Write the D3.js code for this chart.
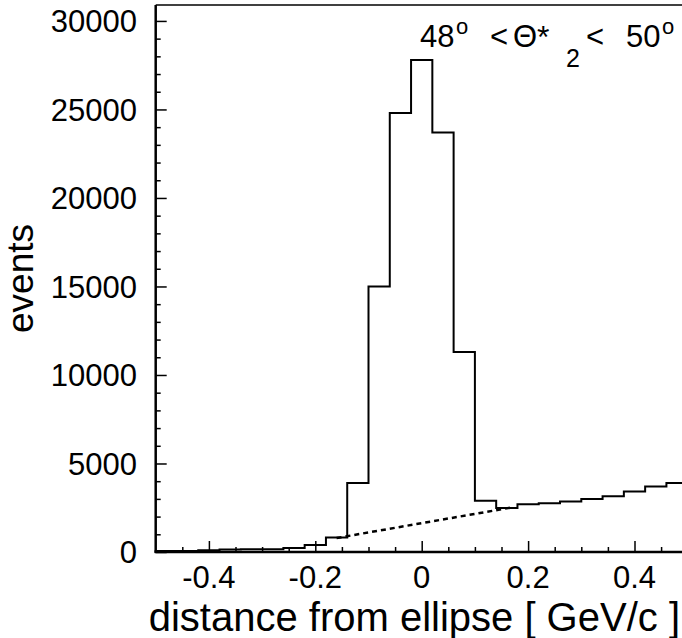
<!DOCTYPE html>
<html>
<head>
<meta charset="utf-8">
<script src="https://cdn.jsdelivr.net/npm/d3@7"></script>
<style>
  html, body { margin: 0; padding: 0; background: #fff; }
  svg { display: block; }
  text { font-family: "Liberation Sans", Arial, Helvetica, sans-serif; fill: #000; }
</style>
</head>
<body>
<svg id="chart" width="682" height="638"></svg>
<script>
// Histogram of distance from the ellipse, 25 bins of width 0.04 from -0.5 to 0.5
const binCenters = [-0.48, -0.44, -0.40, -0.36, -0.32, -0.28, -0.24, -0.20, -0.16, -0.12,
                    -0.08, -0.04, 0.00, 0.04, 0.08, 0.12, 0.16, 0.20, 0.24, 0.28,
                    0.32, 0.36, 0.40, 0.44, 0.48];
const binCounts = [50, 60, 100, 140, 150, 160, 220, 400, 820, 3900,
                   15000, 24800, 27800, 23700, 11300, 2900, 2480, 2700, 2760, 2850,
                   3000, 3150, 3420, 3700, 3900];
const binWidth = 0.04;

// Straight background estimate under the peak
const bgX = [-0.16, 0.17];
const bgY = [790, 2520];

const xMajorTicks = [-0.4, -0.2, 0, 0.2, 0.4];
const xTickLabels = ["-0.4", "-0.2", "0", "0.2", "0.4"];
const xMinorTicks = [-0.45, -0.35, -0.3, -0.25, -0.15, -0.1, -0.05, 0.05, 0.1, 0.15, 0.25, 0.3, 0.35, 0.45];
const yMajorTicks = [0, 5000, 10000, 15000, 20000, 25000, 30000];
const yMinorTicks = d3.range(0, 31000, 1000).filter(v => v % 5000 !== 0);

const xDomain = [-0.5, 0.5];
const yDomain = [0, 30900];

const svg = d3.select("#chart");
const frame = { left: 155.7, right: 687.7, top: 5, bottom: 552 };

const x = d3.scaleLinear().domain(xDomain).range([frame.left, frame.right]);
const y = d3.scaleLinear().domain(yDomain).range([frame.bottom, frame.top]);

// Histogram outline as a step path
const pts = [[xDomain[0], 0]];
binCenters.forEach((c, i) => {
  pts.push([c - binWidth / 2, binCounts[i]]);
  pts.push([c + binWidth / 2, binCounts[i]]);
});
pts.push([xDomain[1], 0]);
const line = d3.line().x(d => x(d[0])).y(d => y(d[1]));
svg.append("path")
  .attr("d", line(pts))
  .attr("fill", "none")
  .attr("stroke", "#000")
  .attr("stroke-width", 2);

// Background line
svg.append("path")
  .attr("d", line(bgX.map((v, i) => [v, bgY[i]])))
  .attr("fill", "none")
  .attr("stroke", "#000")
  .attr("stroke-width", 2.5)
  .attr("stroke-dasharray", "5,4");

// Frame
svg.append("line").attr("x1", frame.left).attr("x2", 682).attr("y1", frame.top).attr("y2", frame.top)
  .attr("stroke", "#000").attr("stroke-width", 1.5);

// Y axis (ticks pointing inward)
const yAxis = d3.axisRight(y).tickValues(yMajorTicks).tickSize(11).tickFormat("");
const gy = svg.append("g").attr("transform", `translate(${frame.left},0)`).call(yAxis);
gy.select(".domain").remove();
gy.selectAll(".tick line").attr("stroke", "#000").attr("stroke-width", 1.5);
const yAxisMinor = d3.axisRight(y).tickValues(yMinorTicks).tickSize(5).tickFormat("");
const gy2 = svg.append("g").attr("transform", `translate(${frame.left},0)`).call(yAxisMinor);
gy2.select(".domain").remove();
gy2.selectAll(".tick line").attr("stroke", "#000").attr("stroke-width", 1.5);
svg.append("line").attr("x1", frame.left).attr("x2", frame.left).attr("y1", frame.top).attr("y2", frame.bottom + 1)
  .attr("stroke", "#000").attr("stroke-width", 2.5);

svg.append("g").selectAll("text").data(yMajorTicks).join("text")
  .attr("x", 137).attr("y", d => y(d))
  .attr("dy", "0.36em")
  .attr("text-anchor", "end")
  .attr("font-size", 31)
  .text(d => d3.format("d")(d));

// X axis (ticks pointing up)
const xAxis = d3.axisTop(x).tickValues(xMajorTicks).tickSize(11).tickFormat("");
const gx = svg.append("g").attr("transform", `translate(0,${frame.bottom})`).call(xAxis);
gx.select(".domain").remove();
gx.selectAll(".tick line").attr("stroke", "#000").attr("stroke-width", 1.5);
const xAxisMinor = d3.axisTop(x).tickValues(xMinorTicks).tickSize(5).tickFormat("");
const gx2 = svg.append("g").attr("transform", `translate(0,${frame.bottom})`).call(xAxisMinor);
gx2.select(".domain").remove();
gx2.selectAll(".tick line").attr("stroke", "#000").attr("stroke-width", 1.5);
svg.append("line").attr("x1", frame.left - 1).attr("x2", 682).attr("y1", frame.bottom).attr("y2", frame.bottom)
  .attr("stroke", "#000").attr("stroke-width", 2.5);

svg.append("g").selectAll("text").data(xMajorTicks).join("text")
  .attr("x", d => x(d)).attr("y", 587.5)
  .attr("text-anchor", "middle")
  .attr("font-size", 31)
  .text((d, i) => xTickLabels[i]);

// Axis titles
svg.append("text")
  .attr("x", 680).attr("y", 630.5)
  .attr("text-anchor", "end")
  .attr("font-size", 40)
  .text("distance from ellipse [ GeV/c ]");

svg.append("text")
  .attr("transform", `translate(33,${(frame.top + frame.bottom) / 2}) rotate(-90)`)
  .attr("text-anchor", "middle")
  .attr("font-size", 37)
  .text("events");

// Angular range label: 48° < Θ*₂ < 50°
const labelParts = [
  { t: "48", x: 420, y: 47, s: 31 },
  { t: "o",  x: 456, y: 33.5, s: 22 },
  { t: "<",  x: 490, y: 47, s: 31 },
  { t: "Θ",  x: 513, y: 47, s: 31 },
  { t: "*",  x: 537, y: 48, s: 32 },
  { t: "2",  x: 566, y: 66.5, s: 25 },
  { t: "<",  x: 586, y: 47, s: 31 },
  { t: "50", x: 626, y: 47, s: 31 },
  { t: "o",  x: 662, y: 33.5, s: 22 }
];
svg.append("g").selectAll("text").data(labelParts).join("text")
  .attr("x", d => d.x).attr("y", d => d.y)
  .attr("font-size", d => d.s)
  .text(d => d.t);
</script>
</body>
</html>
